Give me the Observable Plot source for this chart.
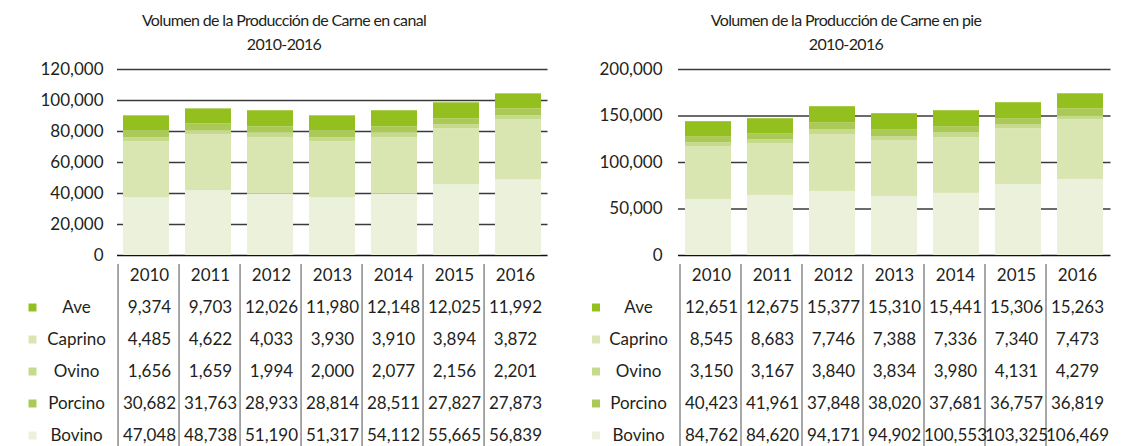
<!DOCTYPE html>
<html>
<head>
<meta charset="utf-8">
<script src="https://cdn.jsdelivr.net/npm/d3@7"></script>
<script src="https://cdn.jsdelivr.net/npm/@observablehq/plot@0.6"></script>
<style>
  html, body { margin: 0; padding: 0; background: #fff; }
  body { width: 1135px; height: 446px; position: relative; overflow: hidden; font-family: Lato, sans-serif; color: #231f20; }
  .title { position: absolute; text-align: center; font-size: 16px; line-height: 24px; letter-spacing: -0.65px; }
  .box { position: absolute; }
</style>
</head>
<body>
<script>
// ---------- data ----------
const years = [2010, 2011, 2012, 2013, 2014, 2015, 2016];
const seriesNames = ["Ave", "Caprino", "Ovino", "Porcino", "Bovino"];
const stackOrder = ["Bovino", "Caprino", "Ovino", "Porcino", "Ave"];
const seriesColors = ["#93c01f", "#d9e6b1", "#c6da8b", "#abc956", "#ecf1dc"];

// table values (canal)
const canalAve = [9374, 9703, 12026, 11980, 12148, 12025, 11992];
const canalCaprino = [4485, 4622, 4033, 3930, 3910, 3894, 3872];
const canalOvino = [1656, 1659, 1994, 2000, 2077, 2156, 2201];
const canalPorcino = [30682, 31763, 28933, 28814, 28511, 27827, 27873];
const canalBovino = [47048, 48738, 51190, 51317, 54112, 55665, 56839];

// table values (pie)
const pieAve = [12651, 12675, 15377, 15310, 15441, 15306, 15263];
const pieCaprino = [8545, 8683, 7746, 7388, 7336, 7340, 7473];
const pieOvino = [3150, 3167, 3840, 3834, 3980, 4131, 4279];
const piePorcino = [40423, 41961, 37848, 38020, 37681, 36757, 36819];
const pieBovino = [84762, 84620, 94171, 94902, 100553, 103325, 106469];

// bar segment heights as drawn in the picture (canal)
const barCanalBovino = [37400, 41900, 39800, 37400, 39800, 45600, 48800];
const barCanalCaprino = [36000, 36000, 36100, 36000, 36100, 36100, 38700];
const barCanalOvino = [2500, 2600, 3300, 2500, 3300, 2600, 2600];
const barCanalPorcino = [4600, 4500, 3800, 4600, 3800, 3900, 4500];
const barCanalAve = [9600, 9600, 10400, 9600, 10400, 10300, 9700];

// bar segment heights as drawn in the picture (pie)
const barPieBovino = [60300, 64600, 68900, 63500, 66800, 76400, 81800];
const barPieCaprino = [56800, 55700, 61100, 60000, 59900, 60000, 64200];
const barPieOvino = [4300, 4300, 5300, 4300, 5400, 4300, 4300];
const barPiePorcino = [6400, 6400, 7500, 7500, 6400, 6400, 7500];
const barPieAve = [16100, 16100, 17200, 17200, 17200, 17200, 16100];

// axis ticks
const canalTicks = [0, 20000, 40000, 60000, 80000, 100000, 120000];
const pieTicks = [0, 50000, 100000, 150000, 200000];

// ---------- helpers ----------
function toLong(map) {
  const out = [];
  for (const s of Object.keys(map)) map[s].forEach((v, i) => out.push({year: years[i], series: s, value: v}));
  return out;
}
const fmt = d3.format(",");
const STYLE = "font-family: Lato, sans-serif; font-size: 17px; color: #231f20; background: transparent; overflow: visible;";

function panel(cfg) {
  const t = document.createElement("div");
  t.className = "title";
  t.style.left = cfg.titleLeft + "px";
  t.style.width = cfg.titleWidth + "px";
  t.style.top = "8px";
  t.innerHTML = cfg.title + "<br>2010-2016";
  document.body.appendChild(t);

  const xOpts = {domain: years, paddingInner: 0.26, paddingOuter: cfg.padOuter, axis: null};
  const color = {domain: seriesNames, range: seriesColors};

  const chart = Plot.plot({
    width: cfg.width, height: 201,
    marginLeft: cfg.marginLeft, marginRight: cfg.marginRight, marginTop: 14, marginBottom: 1,
    style: STYLE,
    x: xOpts,
    y: {domain: [0, cfg.ticks[cfg.ticks.length - 1]], axis: null},
    color,
    marks: [
      Plot.ruleY(cfg.ticks.slice(1), {stroke: "#3a3a3a", strokeWidth: 1.3}),
      Plot.ruleY([0], {stroke: "#111", strokeWidth: 1.3}),
      Plot.barY(toLong(cfg.bars), Plot.stackY({x: "year", y: "value", fill: "series", order: stackOrder})),
      Plot.axisY({ticks: cfg.ticks, tickFormat: fmt, tickSize: 0, tickPadding: cfg.tickPadding, label: null, fontSize: 17, fill: "#231f20"})
    ]
  });
  const cbox = document.createElement("div");
  cbox.className = "box";
  cbox.style.left = cfg.left + "px";
  cbox.style.top = "55px";
  cbox.appendChild(chart);
  document.body.appendChild(cbox);

  // table
  const rows = ["header", ...seriesNames];
  const cells = toLong(cfg.table);
  const table = Plot.plot({
    width: cfg.width, height: 188,
    marginLeft: cfg.marginLeft, marginRight: cfg.marginRight, marginTop: 15, marginBottom: 9.5,
    style: STYLE,
    x: xOpts,
    y: {type: "point", domain: rows, padding: 0, axis: null},
    color,
    marks: [
      Plot.ruleX(years, {x: d => d, dx: -cfg.step / 2, stroke: "#6d6d6d", strokeWidth: 1.2, insetTop: -9, insetBottom: -12}),
      Plot.text(years, {x: d => d, y: () => "header", text: d => String(d), fill: "#231f20", fontSize: 17}),
      Plot.text(cells, {x: "year", y: "series", text: d => fmt(d.value), fill: "#231f20", fontSize: 17}),
      Plot.text(seriesNames, {y: d => d, frameAnchor: "left", dx: cfg.labelDx, text: d => d, textAnchor: "middle", fill: "#231f20", fontSize: 17}),
      Plot.dot(seriesNames, {y: d => d, frameAnchor: "left", dx: cfg.squareDx, symbol: "square", r: 4.5, fill: d => d, stroke: null})
    ]
  });
  const tbox = document.createElement("div");
  tbox.className = "box";
  tbox.style.left = cfg.left + "px";
  tbox.style.top = "258px";
  tbox.appendChild(table);
  document.body.appendChild(tbox);
}

panel({
  title: "Volumen de la Producción de Carne en canal",
  titleLeft: 0, titleWidth: 568,
  left: 0, width: 560, marginLeft: 117, marginRight: 12.5, padOuter: 0.05, step: 62.9,
  ticks: canalTicks, tickPadding: 14, labelDx: -41, squareDx: -85,
  bars: {Bovino: barCanalBovino, Caprino: barCanalCaprino, Ovino: barCanalOvino, Porcino: barCanalPorcino, Ave: barCanalAve},
  table: {Ave: canalAve, Caprino: canalCaprino, Ovino: canalOvino, Porcino: canalPorcino, Bovino: canalBovino}
});
panel({
  title: "Volumen de la Producción de Carne en pie",
  titleLeft: 570, titleWidth: 552,
  left: 560, width: 575, marginLeft: 118, marginRight: 24.5, padOuter: 0.063, step: 63,
  ticks: pieTicks, tickPadding: 16, labelDx: -40, squareDx: -82.5,
  bars: {Bovino: barPieBovino, Caprino: barPieCaprino, Ovino: barPieOvino, Porcino: barPiePorcino, Ave: barPieAve},
  table: {Ave: pieAve, Caprino: pieCaprino, Ovino: pieOvino, Porcino: piePorcino, Bovino: pieBovino}
});
</script>
</body>
</html>
